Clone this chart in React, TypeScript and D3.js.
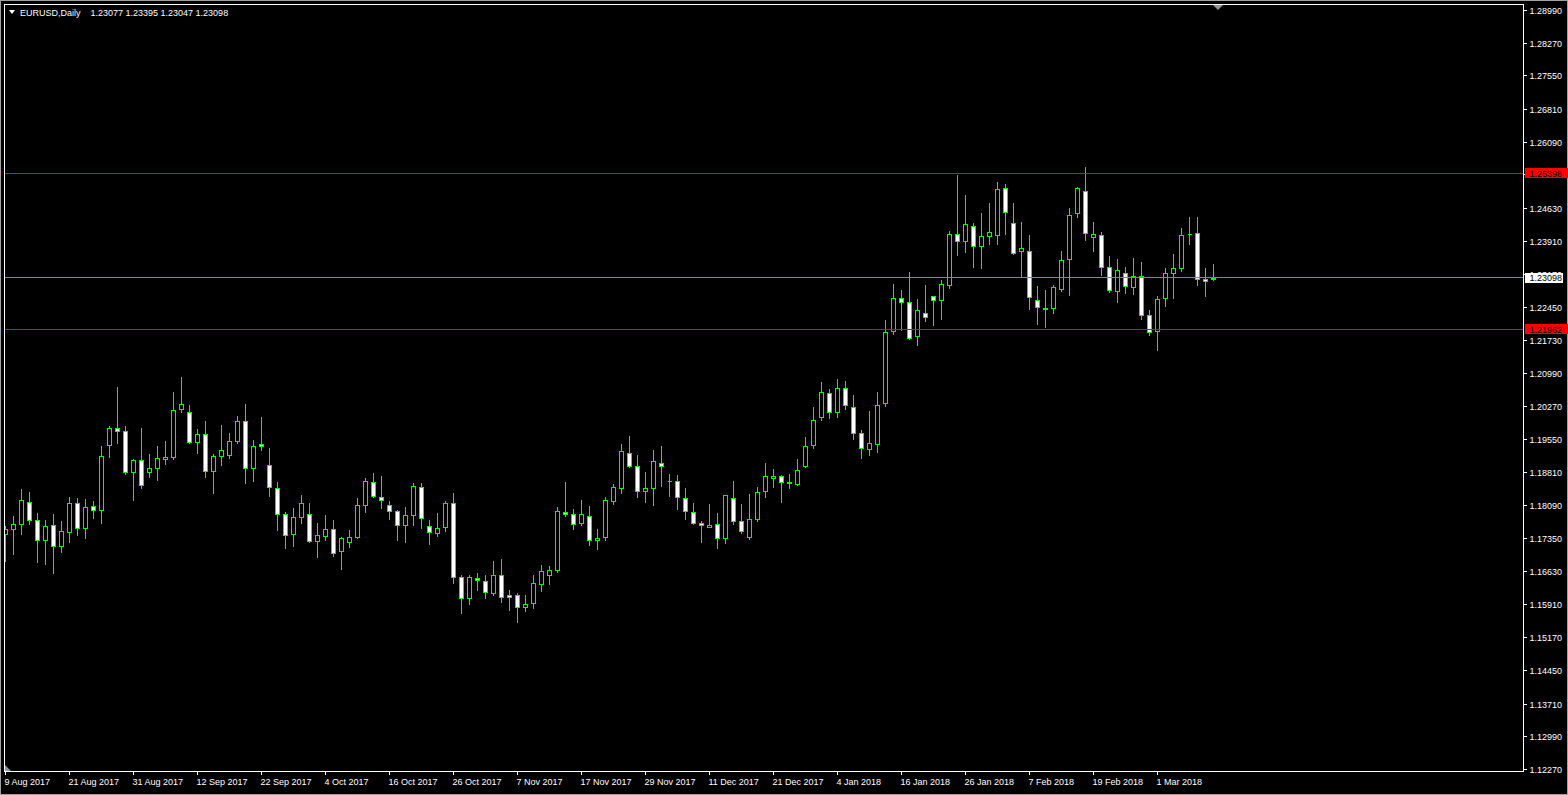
import React from 'react';
import * as d3 from 'd3';

const SYMBOL = 'EURUSD,Daily';
const QUOTE = '1.23077 1.23395 1.23047 1.23098';

const opens = [
  1.17467, 1.17578, 1.17689, 1.18168, 1.17777, 1.17335, 1.17666, 1.17202, 1.17512, 1.18131,
  1.17600, 1.18065, 1.17976, 1.19414, 1.19790, 1.19724, 1.18817, 1.19082, 1.18817, 1.18905,
  1.19105, 1.19149, 1.20211, 1.20144, 1.19495, 1.19658, 1.18839, 1.19171, 1.19193, 1.19503,
  1.19945, 1.18905, 1.19436, 1.18972, 1.18463, 1.17888, 1.17460, 1.17843, 1.17888, 1.17305,
  1.17416, 1.17578, 1.17089, 1.17273, 1.17398, 1.18092, 1.18601, 1.18269, 1.18092, 1.17959,
  1.17649, 1.17870, 1.18490, 1.17627, 1.17472, 1.17605, 1.18136, 1.16521, 1.16056, 1.16499,
  1.16432, 1.16167, 1.16565, 1.16123, 1.16123, 1.15850, 1.15939, 1.16359, 1.16544, 1.16654,
  1.17937, 1.17893, 1.17694, 1.17849, 1.17318, 1.17384, 1.18181, 1.18468, 1.19243, 1.18955,
  1.18402, 1.18468, 1.19022, 1.18631, 1.18623, 1.18242, 1.17932, 1.17711, 1.17622, 1.17689,
  1.17379, 1.18242, 1.17755, 1.17401, 1.17799, 1.18397, 1.18684, 1.18728, 1.18596, 1.18551,
  1.18950, 1.19414, 1.20034, 1.20565, 1.20144, 1.20675, 1.20255, 1.19672, 1.19340, 1.19451,
  1.20336, 1.21919, 1.22649, 1.22561, 1.21808, 1.22317, 1.22693, 1.22605, 1.22951, 1.24057,
  1.23902, 1.24234, 1.23792, 1.24013, 1.24035, 1.25075, 1.24300, 1.23681, 1.23681, 1.22619,
  1.22425, 1.22442, 1.22863, 1.23504, 1.24522, 1.25009, 1.23991, 1.24035, 1.23349, 1.22818,
  1.23217, 1.22907, 1.23150, 1.22287, 1.21933, 1.22664, 1.23217, 1.23327, 1.24065, 1.24080,
  1.23084, 1.23077,
];

const highs = [
  1.17630, 1.17851, 1.18448, 1.18382, 1.17910, 1.17777, 1.17895, 1.17740, 1.18271, 1.18242,
  1.18220, 1.18175, 1.19392, 1.19842, 1.20705, 1.19842, 1.19105, 1.19790, 1.19223, 1.19392,
  1.19510, 1.20594, 1.20926, 1.20307, 1.19768, 1.19953, 1.19215, 1.19864, 1.19687, 1.20063,
  1.20329, 1.19532, 1.20041, 1.19355, 1.18603, 1.17932, 1.18020, 1.18308, 1.18131, 1.17711,
  1.17866, 1.17777, 1.17384, 1.17546, 1.18254, 1.18689, 1.18800, 1.18741, 1.18180, 1.17981,
  1.18047, 1.18578, 1.18578, 1.17760, 1.17915, 1.18180, 1.18357, 1.16565, 1.16565, 1.16609,
  1.16565, 1.16853, 1.16897, 1.16233, 1.16153, 1.16108, 1.16551, 1.16772, 1.16743, 1.18048,
  1.18601, 1.18004, 1.18210, 1.18070, 1.17561, 1.18269, 1.18557, 1.19449, 1.19619, 1.19199,
  1.18822, 1.19309, 1.19398, 1.18778, 1.18756, 1.18470, 1.18131, 1.17755, 1.18109, 1.17910,
  1.18315, 1.18618, 1.18109, 1.18330, 1.18492, 1.19016, 1.18883, 1.18751, 1.18773, 1.19105,
  1.19591, 1.20255, 1.20808, 1.20653, 1.20875, 1.20830, 1.20521, 1.19739, 1.20159, 1.20579,
  1.22172, 1.22959, 1.22826, 1.23224, 1.22627, 1.22937, 1.22701, 1.23047, 1.24123, 1.25362,
  1.24920, 1.24300, 1.24522, 1.24743, 1.25208, 1.25163, 1.24743, 1.24323, 1.24035, 1.22929,
  1.22841, 1.22951, 1.23681, 1.24633, 1.25097, 1.25540, 1.24323, 1.24102, 1.23571, 1.23504,
  1.23349, 1.23526, 1.23438, 1.22398, 1.22708, 1.23327, 1.23615, 1.24190, 1.24434, 1.24434,
  1.23327, 1.23395,
];

const lows = [
  1.16863, 1.17025, 1.17467, 1.17689, 1.16840, 1.16804, 1.16597, 1.17062, 1.17283, 1.17438,
  1.17371, 1.17814, 1.17703, 1.19164, 1.19459, 1.18787, 1.18212, 1.18478, 1.18721, 1.18655,
  1.19009, 1.19119, 1.20137, 1.19473, 1.19252, 1.18721, 1.18367, 1.18987, 1.19141, 1.19459,
  1.18588, 1.18633, 1.19318, 1.18301, 1.17548, 1.17150, 1.17194, 1.17703, 1.17283, 1.16951,
  1.17335, 1.16973, 1.16676, 1.17177, 1.17376, 1.17937, 1.18269, 1.18040, 1.17797, 1.17332,
  1.17288, 1.17664, 1.17598, 1.17229, 1.17421, 1.17516, 1.16388, 1.15724, 1.15923, 1.16226,
  1.16056, 1.16123, 1.15968, 1.15791, 1.15518, 1.15762, 1.15828, 1.16204, 1.16359, 1.16610,
  1.17849, 1.17561, 1.17650, 1.17207, 1.17119, 1.17318, 1.18114, 1.18358, 1.18940, 1.18269,
  1.18159, 1.18092, 1.18513, 1.18291, 1.18004, 1.17799, 1.17689, 1.17283, 1.17615, 1.17158,
  1.17268, 1.17689, 1.17489, 1.17357, 1.17755, 1.18279, 1.18485, 1.18153, 1.18463, 1.18529,
  1.18935, 1.19348, 1.19967, 1.20012, 1.20034, 1.20211, 1.19547, 1.19134, 1.19208, 1.19267,
  1.20284, 1.21853, 1.21941, 1.21748, 1.21631, 1.22140, 1.22066, 1.22199, 1.22884, 1.23607,
  1.23674, 1.23342, 1.23320, 1.23851, 1.23836, 1.24072, 1.23615, 1.23120, 1.22420, 1.22088,
  1.22015, 1.22332, 1.22818, 1.22730, 1.24448, 1.23925, 1.23681, 1.23165, 1.22796, 1.22575,
  1.22774, 1.22752, 1.22199, 1.21845, 1.21513, 1.22487, 1.22664, 1.23261, 1.23836, 1.22951,
  1.22708, 1.23047,
];

const closes = [
  1.17578, 1.17689, 1.18197, 1.17777, 1.17335, 1.17644, 1.17202, 1.17534, 1.18131, 1.17600,
  1.18043, 1.17976, 1.19171, 1.19790, 1.19724, 1.18817, 1.19082, 1.18529, 1.18905, 1.19127,
  1.19149, 1.20189, 1.20321, 1.19495, 1.19658, 1.18839, 1.19171, 1.19304, 1.19503, 1.19945,
  1.18905, 1.19392, 1.19407, 1.18485, 1.17888, 1.17445, 1.17843, 1.18131, 1.17305, 1.17445,
  1.17578, 1.17040, 1.17362, 1.17384, 1.18092, 1.18623, 1.18291, 1.18202, 1.17959, 1.17649,
  1.17870, 1.18512, 1.17804, 1.17494, 1.17583, 1.18136, 1.16521, 1.16056, 1.16521, 1.16454,
  1.16189, 1.16565, 1.16078, 1.16078, 1.15850, 1.15924, 1.16389, 1.16632, 1.16654, 1.17960,
  1.17893, 1.17672, 1.17893, 1.17318, 1.17362, 1.18203, 1.18491, 1.19287, 1.18955, 1.18402,
  1.18468, 1.19066, 1.18955, 1.18626, 1.18269, 1.17954, 1.17711, 1.17666, 1.17666, 1.17379,
  1.18308, 1.17755, 1.17534, 1.17799, 1.18374, 1.18728, 1.18728, 1.18596, 1.18580, 1.18861,
  1.19392, 1.19967, 1.20587, 1.20144, 1.20675, 1.20299, 1.19680, 1.19362, 1.19473, 1.20292,
  1.21907, 1.22649, 1.22561, 1.21764, 1.22384, 1.22229, 1.22605, 1.22959, 1.24057, 1.23902,
  1.24278, 1.23792, 1.24013, 1.24101, 1.25053, 1.24544, 1.23637, 1.23747, 1.22686, 1.22464,
  1.22420, 1.22907, 1.23482, 1.24478, 1.25075, 1.24080, 1.24057, 1.23349, 1.22841, 1.23283,
  1.22929, 1.23150, 1.22287, 1.21911, 1.22641, 1.23217, 1.23327, 1.24035, 1.24072, 1.23084,
  1.23040, 1.23098,
];

// date labels, one every 8 bars starting at bar 0
const dateLabels = [
  '9 Aug 2017', '21 Aug 2017', '31 Aug 2017', '12 Sep 2017', '22 Sep 2017', '4 Oct 2017',
  '16 Oct 2017', '26 Oct 2017', '7 Nov 2017', '17 Nov 2017', '29 Nov 2017', '11 Dec 2017',
  '21 Dec 2017', '4 Jan 2018', '16 Jan 2018', '26 Jan 2018', '7 Feb 2018', '19 Feb 2018',
  '1 Mar 2018',
];
const dateLabelStep = 8;

const priceTicks = [
  1.28990, 1.28270, 1.27550, 1.26810, 1.26090, 1.25370, 1.24630, 1.23910, 1.23170, 1.22450,
  1.21730, 1.20990, 1.20270, 1.19550, 1.18810, 1.18090, 1.17350, 1.16630, 1.15910, 1.15170,
  1.14450, 1.13710, 1.12990, 1.12270,
];

const redLevels = [1.25398, 1.21962];
const bidPrice = 1.23098;

const GREEN = '#00FF00';
const FONT = "'Liberation Sans', Arial, sans-serif";

export default function App() {
  const n = opens.length;
  const frame = { left: 4.5, top: 4.5, right: 1523.5, bottom: 771.5 };
  const x = d3.scaleLinear().domain([0, n - 1]).range([5.5, 5.5 + 8 * (n - 1)]);
  const y = d3.scaleLinear().domain([redLevels[0], redLevels[1]]).range([173.5, 329.5]);
  const py = (p: number) => Math.floor(y(p)) + 0.5;

  const candles = d3.range(n).map((i) => {
    const o = opens[i], h = highs[i], l = lows[i], c = closes[i];
    const cx = x(i);
    const top = Math.round(y(Math.max(o, c)));
    const bot = Math.round(y(Math.min(o, c)));
    const yh = Math.round(y(h));
    const yl = Math.round(y(l));
    const bull = c >= o;
    return (
      <g key={i}>
        <line x1={cx} x2={cx} y1={yh} y2={yl + 1} stroke={GREEN} strokeWidth={1} />
        <path
          d={`M${cx - 2},${top + 0.5}H${cx + 2}V${bot + 0.5}H${cx - 2}Z`}
          fill={bull ? '#000000' : '#FFFFFF'}
          stroke={GREEN}
          strokeWidth={1}
          shapeRendering="crispEdges"
        />
      </g>
    );
  });

  return (
    <div style={{ width: 1568, height: 795, background: '#000' }}>
      <style>{`body{margin:0;background:#000;} svg text{font-family:${FONT};}`}</style>
      <svg width={1568} height={795} style={{ display: 'block', background: '#000' }}>
        <defs>
          <clipPath id="plotClip">
            <rect x={5} y={5} width={1518} height={766} />
          </clipPath>
        </defs>
        {/* outer window edges */}
        <line x1={0} x2={1568} y1={0.5} y2={0.5} stroke="#a0a0a0" />
        <line x1={0.5} x2={0.5} y1={0} y2={795} stroke="#a0a0a0" />
        <line x1={0} x2={1568} y1={794.5} y2={794.5} stroke="#a0a0a0" />
        <line x1={1567.5} x2={1567.5} y1={0} y2={795} stroke="#a0a0a0" />

        <g clipPath="url(#plotClip)">
          {candles}
          {redLevels.map((p) => (
            <line key={p} x1={5} x2={1523} y1={py(p)} y2={py(p)} stroke="#FF0000" strokeWidth={1} />
          ))}
          <line x1={5} x2={1523} y1={py(bidPrice)} y2={py(bidPrice)} stroke="#778899" strokeWidth={1} />
        </g>

        {/* frame */}
        <rect
          x={frame.left}
          y={frame.top}
          width={frame.right - frame.left}
          height={frame.bottom - frame.top}
          fill="none"
          stroke="#FFFFFF"
          strokeWidth={1}
        />

        {/* price axis */}
        {priceTicks.map((t) => (
          <g key={t}>
            <line x1={1524} x2={1527} y1={py(t)} y2={py(t)} stroke="#FFFFFF" />
            <text x={1529.5} y={py(t) + 3.5} fontSize={9} fill="#FFFFFF">
              {t.toFixed(5)}
            </text>
          </g>
        ))}
        {redLevels.map((p) => (
          <g key={'lbl' + p}>
            <rect x={1525} y={py(p) - 5.5} width={43} height={10} fill="#FF0000" />
            <text x={1529.5} y={py(p) + 3} fontSize={9} fill="#000000">
              {p.toFixed(5)}
            </text>
          </g>
        ))}
        <g>
          <rect x={1525} y={py(bidPrice) - 4.5} width={38} height={10} fill="#FFFFFF" />
          <text x={1529.5} y={py(bidPrice) + 3.5} fontSize={9} fill="#000000">
            {bidPrice.toFixed(5)}
          </text>
        </g>

        {/* time axis */}
        {dateLabels.map((lbl, k) => {
          const xi = Math.floor(x(k * dateLabelStep)) + 0.5;
          return (
            <g key={lbl}>
              <line x1={xi} x2={xi} y1={772} y2={775} stroke="#FFFFFF" />
              <text x={xi - 1} y={784.5} fontSize={9} fill="#FFFFFF">
                {lbl}
              </text>
            </g>
          );
        })}

        {/* title */}
        <path d="M9,10H15L12,14Z" fill="#FFFFFF" />
        <text x={20} y={16} fontSize={9} fill="#FFFFFF">{SYMBOL}</text>
        <text x={90.5} y={16} fontSize={9} fill="#FFFFFF">{QUOTE}</text>

        {/* chart shift marker and scale marker */}
        <path d="M1213,5H1223L1218,10Z" fill="#8C96A0" />
        <path d="M5,765V771H11Z" fill="#8C96A0" />
      </svg>
    </div>
  );
}
